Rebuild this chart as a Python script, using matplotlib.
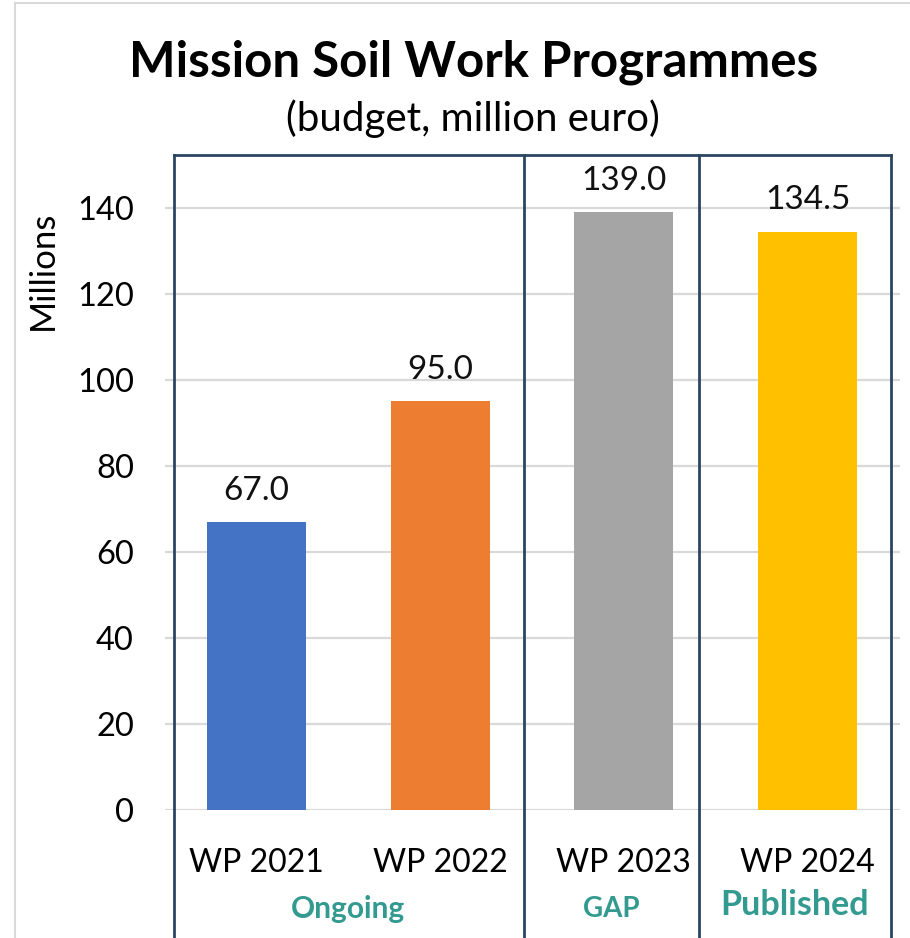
import matplotlib
matplotlib.use("Agg")
import matplotlib.pyplot as plt
from matplotlib.lines import Line2D

categories = ["WP 2021", "WP 2022", "WP 2023", "WP 2024"]
values = [67.0, 95.0, 139.0, 134.5]
colors = ["#4472C4", "#ED7D31", "#A5A5A5", "#FFC000"]
yticks = [0, 20, 40, 60, 80, 100, 120, 140]
groups = ["Ongoing", "GAP", "Published"]

plt.rcParams['font.family'] = ['Lato', 'DejaVu Sans']

W, H = 910, 938
fig = plt.figure(figsize=(W / 100, H / 100), dpi=100)

def fx(px):
    return px / W

def fy(py):
    return 1 - py / H

ax_left, ax_right = 164.5, 899.5
ax_bottom, ax_top = 810, 165
ax = fig.add_axes([fx(ax_left), fy(ax_bottom), fx(ax_right - ax_left), (ax_bottom - ax_top) / H])
x = list(range(len(categories)))
ax.bar(x, values, width=0.54, color=colors, zorder=3)
ax.set_xlim(-0.5, 3.5)
ax.set_ylim(0, 150)
ax.set_yticks(yticks)
ax.set_yticklabels([str(t) for t in yticks], fontsize=23.5)
ax.set_xticks(x)
ax.set_xticklabels(categories, fontsize=23)
ax.tick_params(axis='y', length=0, pad=22)
ax.tick_params(axis='x', length=0, pad=27)
for s in ax.spines.values():
    s.set_visible(False)
for t in yticks:
    ax.axhline(t, color="#D9D9D9", lw=1.6, zorder=1)
for xi, v in zip(x, values):
    ax.text(xi, v + 3.8, f"{v:.1f}", ha="center", va="bottom", fontsize=24, color="#111111")

ax.set_ylabel("Millions", fontsize=25)
ax.yaxis.set_label_coords((43 - ax_left) / (ax_right - ax_left), (ax_bottom - 270) / (ax_bottom - ax_top))
ax.yaxis.label.set_va("center")

# Title
fig.text(fx(474), fy(62), "Mission Soil Work Programmes", ha="center", va="center",
         fontsize=35.5, fontweight="bold")
fig.text(fx(473), fy(119), "(budget, million euro)", ha="center", va="center", fontsize=29)

# group boxes
box_col = "#2B4562"
xs = [174, 524, 699, 891]
top = 155
for xv in xs:
    fig.add_artist(Line2D([fx(xv), fx(xv)], [fy(top), fy(H + 5)], color=box_col, lw=2))
fig.add_artist(Line2D([fx(xs[0]), fx(xs[-1])], [fy(top), fy(top)], color=box_col, lw=2))

# outer light frame
fig.add_artist(Line2D([fx(15), fx(15)], [fy(3), 0], color="#D9D9D9", lw=1.5))
fig.add_artist(Line2D([fx(15), 1], [fy(3), fy(3)], color="#D9D9D9", lw=1.5))

teal = "#339A90"
fig.text(fx(348), fy(909), groups[0], ha="center", va="center", fontsize=21.5, fontweight="bold", color=teal)
fig.text(fx(611), fy(909), groups[1], ha="center", va="center", fontsize=20, fontweight="bold", color=teal)
fig.text(fx(795), fy(905), groups[2], ha="center", va="center", fontsize=24.5, fontweight="bold", color=teal)

fig.savefig("out.png", dpi=100)
